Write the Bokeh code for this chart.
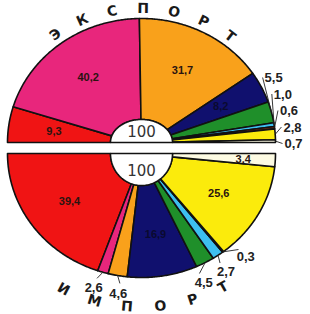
import numpy as np
from bokeh.plotting import figure
from bokeh.models import Range1d
from bokeh.embed import file_html
from bokeh.resources import INLINE
from bokeh.core.properties import value

# ---------------- data ----------------
segments = ["s1", "s2", "s3", "s4", "s5", "s6", "s7", "s8", "s9"]
export_values = [9.3, 40.2, 31.7, 8.2, 5.5, 1.0, 0.6, 2.8, 0.7]
import_values = [39.4, 2.6, 4.6, 16.9, 4.5, 2.7, 0.3, 25.6, 3.4]
colors = ["#f01414", "#e8267c", "#f9a11b", "#10106e", "#1f8f2a",
          "#3dbff0", "#8c2a10", "#fbeb0c", "#fdfbe3"]
export_title = ["Э", "К", "С", "П", "О", "Р", "Т"]
import_title = ["И", "М", "П", "О", "Р", "Т"]
total_text = "100"
export_outside = [4, 5, 6, 7, 8]
import_outside = [1, 2, 4, 5, 6]

# ---------------- layout / style ----------------
CX, RX, RY = 141.0, 134.0, 124.0
FONT = value("DejaVu Sans")
LBL_FONT = value("Liberation Sans")


def fmt(v):
    return f"{v:.1f}".replace(".", ",")


def pt(th, rx, ry, cy, s):
    t = np.radians(th)
    return CX + rx * np.cos(t), cy + s * ry * np.sin(t)


p = figure(width=310, height=314, x_range=Range1d(0, 310), y_range=Range1d(314, 0),
           output_backend="svg", toolbar_location=None, min_border=0,
           background_fill_color="white", border_fill_color="white")
p.axis.visible = False
p.grid.visible = False
p.outline_line_color = None

halves = [
    dict(values=export_values, cy=142.0, s=-1, irx=31.0, iry=23.0,
         outside=export_outside, title=export_title, tstart=126.4, tstep=12.35, tr=1.085),
    dict(values=import_values, cy=153.0, s=1, irx=31.0, iry=32.0,
         outside=import_outside, title=import_title, tstart=118.0, tstep=11.5, tr=1.235),
]

for h in halves:
    vals = np.array(h["values"], dtype=float)
    cy, s = h["cy"], h["s"]
    cum = np.cumsum(vals) / vals.sum()
    starts = 180 - 180 * np.concatenate([[0.0], cum[:-1]])
    ends = 180 - 180 * cum
    mids = (starts + ends) / 2
    xs, ys = [], []
    for a0, a1 in zip(starts, ends):
        n = max(3, int(abs(a0 - a1) * 2)) + 1
        th = np.linspace(a0, a1, n)
        ox, oy = pt(th, RX, RY, cy, s)
        ix, iy = pt(th[::-1], h["irx"], h["iry"], cy, s)
        xs.append(list(ox) + list(ix))
        ys.append(list(oy) + list(iy))
    p.patches(xs, ys, fill_color=colors, line_color="#111111", line_width=1.6,
              line_join="round")

    # inner white half circle with total
    th = np.linspace(180, 0, 90)
    ix, iy = pt(th, h["irx"], h["iry"], cy, s)
    p.patch(list(ix), list(iy), fill_color="white", line_color="#111111", line_width=1.5)
    p.text(x=[CX], y=[cy + s * h["iry"] * 0.52], text=[total_text], text_font=FONT,
           text_font_size="15px", text_color="#333333", text_align="center",
           text_baseline="middle")

    # inside labels
    in_idx = [i for i in range(len(vals)) if i not in h["outside"]]
    lx, ly, lt, lc = [], [], [], []
    for i in in_idx:
        span = abs(starts[i] - ends[i])
        r = 0.66 if span > 10 else 0.76
        x, y = pt(mids[i], r * RX, r * RY, cy, s)
        lx.append(x); ly.append(y); lt.append(fmt(vals[i]))
        lc.append("#0a0a30" if colors[i] == "#10106e" else "#2a1410")
    p.text(x=lx, y=ly, text=lt, text_color=lc, text_font=LBL_FONT, text_font_style="bold",
           text_font_size="11px", text_align="center", text_baseline="middle")

    out = h["outside"]
    if s < 0:
        # stacked column of labels at the right, anchored at the flat edge
        gap = 16.5
        ypos = {}
        prev = None
        for i in reversed(out):
            target = cy - 1.1 * RY * np.sin(np.radians(mids[i]))
            y = cy + 1 if prev is None else min(target, prev - gap)
            ypos[i] = y
            prev = y
        ox_, oy_, tx_, ty_, tt_ = [], [], [], [], []
        for i in out:
            y = ypos[i]
            dy = min(1.0, max(0.0, (cy - y) / RY))
            xl = CX + RX * np.sqrt(1 - dy ** 2) + 9
            sx, sy = pt(mids[i], RX, RY, cy, s)
            ox_.append([sx, xl - 2]); oy_.append([sy, y])
            tx_.append(xl); ty_.append(y); tt_.append(fmt(vals[i]))
        p.multi_line(ox_, oy_, line_color="#222222", line_width=0.9)
        p.text(x=tx_, y=ty_, text=tt_, text_font=LBL_FONT, text_font_style="bold",
               text_font_size="13px", text_color="#222222", text_align="left",
               text_baseline="middle")
    else:
        # labels below the arc, spread to a minimum angular distance
        minsep = 9.5
        groups = []
        for i in out:
            if groups and groups[-1][-1] == i - 1:
                groups[-1].append(i)
            else:
                groups.append([i])
        lab_ang = {}
        for g in groups:
            m = [mids[i] for i in g]
            a = [m[0]]
            for k in range(1, len(g)):
                a.append(min(m[k], a[-1] - minsep))
            shift = np.mean(m) - np.mean(a)
            for i, aa in zip(g, a):
                lab_ang[i] = aa + shift
        ox_, oy_, tx_, ty_, tt_ = [], [], [], [], []
        for i in out:
            sx, sy = pt(mids[i], RX, RY, cy, s)
            ex, ey = pt(lab_ang[i], 1.06 * RX, 1.06 * RY, cy, s)
            tx, ty = pt(lab_ang[i], 1.14 * RX, 1.14 * RY, cy, s)
            ox_.append([sx, ex]); oy_.append([sy, ey])
            tx_.append(tx); ty_.append(ty); tt_.append(fmt(vals[i]))
        p.multi_line(ox_, oy_, line_color="#222222", line_width=0.9)
        p.text(x=tx_, y=ty_, text=tt_, text_font=LBL_FONT, text_font_style="bold",
               text_font_size="13px", text_color="#222222", text_align="center",
               text_baseline="middle")

    # arc title letters
    n = len(h["title"])
    angs = np.array([h["tstart"] - h["tstep"] * k for k in range(n)])
    lx, ly = pt(angs, h["tr"] * RX, h["tr"] * RY, cy, s)
    rot = (angs - 90) if s < 0 else (90 - angs)
    p.text(x=list(lx), y=list(ly), text=h["title"], angle=list(np.radians(rot)),
           text_font=FONT, text_font_style="bold", text_font_size="14px",
           text_color="#1a1a1a", text_align="center", text_baseline="middle")

open("out.html", "w").write(file_html(p, INLINE))
